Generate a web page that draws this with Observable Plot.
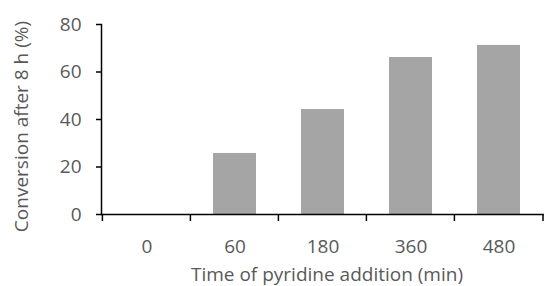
<!DOCTYPE html>
<html>
<head>
<meta charset="utf-8">
<script src="https://cdn.jsdelivr.net/npm/d3@7"></script>
<script src="https://cdn.jsdelivr.net/npm/@observablehq/plot@0.6"></script>
<style>
  html, body { margin: 0; padding: 0; background: #fff; }
</style>
</head>
<body>
<div id="chart"></div>
<script>
const categories = ["0", "60", "180", "360", "480"];
const conversion = [0, 25.7, 44.2, 66.1, 71.2];
const yTicks = [0, 20, 40, 60, 80];
const xTitle = "Time of pyridine addition (min)";
const yTitle = "Conversion after 8 h (%)";

const data = categories.map((c, i) => ({cat: c, value: conversion[i]}));

const W = 544, H = 286;
const ML = 101, MR = 0, MT = 24, MB = 72;
const PAD_INNER = 0.51, PAD_OUTER = 0.255;
const FONT = "'Open Sans', sans-serif";
const TEXT = "#595959";
const FS = 19;

// tick marks at category boundaries below the x axis
function boundaryTicks(index, scales, values, dims) {
  const step = (dims.width - dims.marginLeft - dims.marginRight) / categories.length;
  const y0 = scales.y(0);
  const g = d3.create("svg:g");
  const bounds = categories.map(c => scales.x(c) - PAD_OUTER * step);
  bounds.push(scales.x(categories[categories.length - 1]) + (1 - PAD_OUTER) * step);
  g.selectAll("line").data(bounds).join("line")
    .attr("x1", d => d).attr("x2", d => d)
    .attr("y1", y0).attr("y2", y0 + 7)
    .attr("stroke", "#000").attr("stroke-width", 1.5);
  return g.node();
}

const plot = Plot.plot({
  width: W, height: H,
  marginLeft: ML, marginRight: MR, marginTop: MT, marginBottom: MB,
  style: {fontFamily: FONT, fontSize: FS + "px", color: TEXT, background: "#fff"},
  x: {domain: categories, paddingInner: PAD_INNER, paddingOuter: PAD_OUTER, label: null},
  y: {domain: [0, 80], label: null},
  marks: [
    Plot.barY(data, {x: "cat", y: "value", fill: "#a5a5a5"}),
    Plot.frame({anchor: "left", stroke: "#000", strokeWidth: 1.5}),
    Plot.ruleY([0], {stroke: "#000", strokeWidth: 1.5}),
    Plot.axisY({ticks: yTicks, tickSize: 5, tickPadding: 15, stroke: "#000", strokeWidth: 1.5, fill: TEXT, fontSize: FS, label: null}),
    Plot.axisX({tickSize: 0, tickPadding: 24.5, fill: TEXT, fontSize: FS, label: null}),
    boundaryTicks,
    Plot.text([xTitle], {frameAnchor: "bottom", dy: 66, dx: 4, fill: TEXT, fontSize: FS}),
    Plot.text([yTitle], {frameAnchor: "left", textAnchor: "middle", rotate: -90, dx: -80, dy: 7, fill: TEXT, fontSize: FS})
  ]
});
document.getElementById("chart").appendChild(plot);
</script>
</body>
</html>
